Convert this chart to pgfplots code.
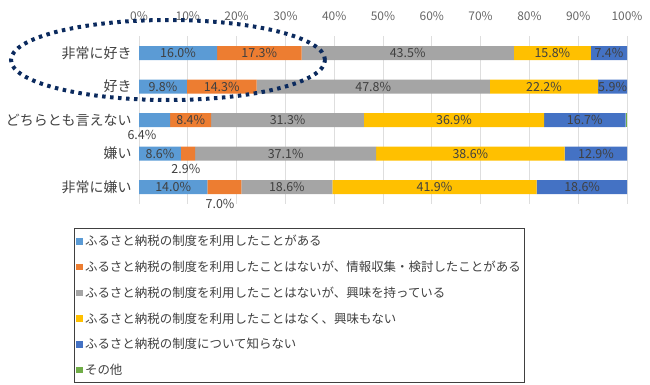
\documentclass[border=0pt]{standalone}
\usepackage{fontspec}
\setmainfont{Noto Sans CJK JP}
\usepackage{pgfplots}
\pgfplotsset{compat=1.18}
\definecolor{cA}{HTML}{5B9BD5}
\definecolor{cB}{HTML}{ED7D31}
\definecolor{cC}{HTML}{A5A5A5}
\definecolor{cD}{HTML}{FFC000}
\definecolor{cE}{HTML}{4472C4}
\definecolor{cF}{HTML}{70AD47}
\definecolor{txt}{HTML}{404040}
\definecolor{navy}{HTML}{0B2A5E}
\tikzset{lbl/.style={font=\fontsize{12.5}{14}\selectfont, text=txt, inner sep=0pt}}
\pgfplotsset{geom/.style={at={(139bp,-36.25bp)}, anchor=north west,
  scale only axis, width=488bp, height=167.5bp,
  xmin=0, xmax=100, ymin=-0.5, ymax=4.5, y dir=reverse}}
\begin{document}
\begin{tikzpicture}
\path[use as bounding box] (0,0) rectangle (650bp,-385bp);
\begin{axis}[
  geom,
  xbar stacked, bar width=14bp,
  ytick={0,1,2,3,4},
  yticklabels={非常に好き,好き,どちらとも言えない,嫌い,非常に嫌い},
  xtick={0,10,...,100},
  xticklabel={\pgfmathprintnumber{\tick}\%},
  xticklabel pos=upper,
  /pgf/number format/assume math mode=true,
  xmajorgrids, grid style={draw=black!13, line width=0.8pt},
  axis line style={draw=none},
  major tick length=0pt,
  tick label style={font=\fontsize{12}{14}\selectfont, text=txt!80},
  yticklabel style={font=\fontsize{14}{16}\selectfont, text=txt, xshift=-4bp},
  xticklabel style={yshift=12bp},
  legend cell align=left,
  legend style={at={(-0.133,-0.145)}, anchor=north west, draw=txt, line width=0.8pt,
    font=\fontsize{12.5}{14}\selectfont, text=txt, row sep=9.7bp,
    inner xsep=2bp, inner ysep=5bp},
  legend image code/.code={\fill[#1,draw=none] (0bp,-3.3bp) rectangle (6.6bp,3.3bp);},
]
\addplot[fill=cA, draw=none] coordinates {(16.0,0) (9.8,1) (6.4,2) (8.6,3) (14.0,4)};
\addplot[fill=cB, draw=none] coordinates {(17.3,0) (14.3,1) (8.4,2) (2.9,3) (7.0,4)};
\addplot[fill=cC, draw=none] coordinates {(43.5,0) (47.8,1) (31.3,2) (37.1,3) (18.6,4)};
\addplot[fill=cD, draw=none] coordinates {(15.8,0) (22.2,1) (36.9,2) (38.6,3) (41.9,4)};
\addplot[fill=cE, draw=none] coordinates {(7.4,0) (5.9,1) (16.7,2) (12.9,3) (18.6,4)};
\addplot[fill=cF, draw=none] coordinates {(0,0) (0,1) (0.3,2) (0,3) (0,4)};
\legend{ふるさと納税の制度を利用したことがある,
ふるさと納税の制度を利用したことはないが、情報収集・検討したことがある,
ふるさと納税の制度を利用したことはないが、興味を持っている,
ふるさと納税の制度を利用したことはなく、興味もない,
ふるさと納税の制度について知らない,
その他}
\end{axis}
\begin{axis}[geom, hide axis, clip=false]
\node[lbl] at (axis cs:8.0,0) {16.0\%};
\node[lbl] at (axis cs:24.65,0) {17.3\%};
\node[lbl] at (axis cs:55.05,0) {43.5\%};
\node[lbl] at (axis cs:84.7,0) {15.8\%};
\node[lbl] at (axis cs:96.3,0) {7.4\%};
\node[lbl] at (axis cs:4.9,1) {9.8\%};
\node[lbl] at (axis cs:16.95,1) {14.3\%};
\node[lbl] at (axis cs:48.0,1) {47.8\%};
\node[lbl] at (axis cs:83.0,1) {22.2\%};
\node[lbl] at (axis cs:97.05,1) {5.9\%};
\node[lbl] at (axis cs:0.6,2.46) {6.4\%};
\node[lbl] at (axis cs:10.6,2) {8.4\%};
\node[lbl] at (axis cs:30.45,2) {31.3\%};
\node[lbl] at (axis cs:64.55,2) {36.9\%};
\node[lbl] at (axis cs:91.35,2) {16.7\%};
\node[lbl] at (axis cs:4.3,3) {8.6\%};
\node[lbl] at (axis cs:9.6,3.46) {2.9\%};
\node[lbl] at (axis cs:30.05,3) {37.1\%};
\node[lbl] at (axis cs:67.9,3) {38.6\%};
\node[lbl] at (axis cs:93.65,3) {12.9\%};
\node[lbl] at (axis cs:7.0,4) {14.0\%};
\node[lbl] at (axis cs:16.6,4.52) {7.0\%};
\node[lbl] at (axis cs:30.3,4) {18.6\%};
\node[lbl] at (axis cs:60.55,4) {41.9\%};
\node[lbl] at (axis cs:90.8,4) {18.6\%};
\end{axis}
\draw[navy, line width=4bp, dash pattern=on 3.5bp off 4.5bp] (168bp,-60bp) ellipse [x radius=157bp, y radius=40bp];
\end{tikzpicture}
\end{document}
